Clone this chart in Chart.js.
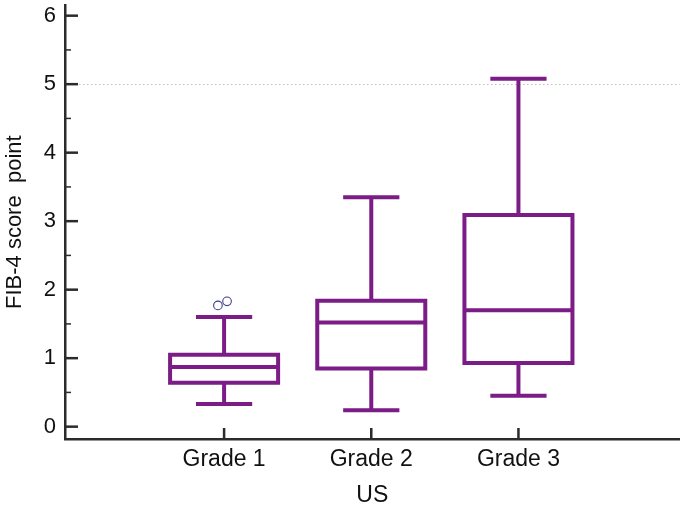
<!DOCTYPE html>
<html><head><meta charset="utf-8">
<script src="https://cdn.jsdelivr.net/npm/chart.js@4.4.1/dist/chart.umd.min.js"></script>
<style>html,body{margin:0;padding:0;background:#fff}#wrap{width:685px;height:507px;position:relative}</style>
</head><body><div id="wrap"><canvas id="c"></canvas></div>
<script>
// ---- data ----
const categories = ['Grade 1', 'Grade 2', 'Grade 3'];
const whiskerLow  = [0.33, 0.24, 0.45];
const q1          = [0.64, 0.85, 0.93];
const median      = [0.87, 1.52, 1.70];
const q3          = [1.05, 1.84, 3.09];
const whiskerHigh = [1.60, 3.35, 5.08];
const outlierPos   = [0.958, 1.020];   // jittered category position
const outlierValue = [1.77, 1.83];
const yTicks = [0, 1, 2, 3, 4, 5, 6];
const refLines = [5];

// ---- style ----
const PURPLE = '#7b1c87';
const AXIS = '#2b2b2b';
const BOX_HALF = 0.367;   // in category units
const CAP_HALF = 0.191;
const FONT = 'Arial, "Liberation Sans", sans-serif';

const gap = i => ({x: i + 1, y: null});
const boxPts = [], medPts = [], whiskPts = [], capPts = [];
categories.forEach((c, i) => {
  const x = i + 1;
  boxPts.push({x: x - BOX_HALF, y: q1[i]}, {x: x + BOX_HALF, y: q1[i]}, {x: x + BOX_HALF, y: q3[i]},
              {x: x - BOX_HALF, y: q3[i]}, {x: x - BOX_HALF, y: q1[i]}, gap(i));
  medPts.push({x: x - BOX_HALF, y: median[i]}, {x: x + BOX_HALF, y: median[i]}, gap(i));
  whiskPts.push({x: x, y: q3[i]}, {x: x, y: whiskerHigh[i]}, gap(i), {x: x, y: q1[i]}, {x: x, y: whiskerLow[i]}, gap(i));
  capPts.push({x: x - CAP_HALF, y: whiskerHigh[i]}, {x: x + CAP_HALF, y: whiskerHigh[i]}, gap(i),
              {x: x - CAP_HALF, y: whiskerLow[i]}, {x: x + CAP_HALF, y: whiskerLow[i]}, gap(i));
});
const outPts = outlierPos.map((p, k) => ({x: p, y: outlierValue[k]}));

const lineDs = (data, cap) => ({
  type: 'scatter', data, showLine: true, spanGaps: false, borderColor: PURPLE, borderWidth: 4,
  pointRadius: 0, borderCapStyle: cap, borderJoinStyle: 'miter', fill: false, tension: 0
});

const tickPlugin = {
  id: 'innerTicks',
  afterDraw(chart) {
    const {ctx, chartArea, scales: {x, y}} = chart;
    ctx.save();
    ctx.strokeStyle = AXIS;
    const seg = (x1, y1, x2, y2, w) => { ctx.lineWidth = w; ctx.beginPath(); ctx.moveTo(x1, y1); ctx.lineTo(x2, y2); ctx.stroke(); };
    yTicks.forEach(v => { const p = y.getPixelForValue(v); seg(chartArea.left, p, chartArea.left + 13, p, 2.5); });
    for (let i = 0; i < yTicks.length - 1; i++) {
      const p = y.getPixelForValue((yTicks[i] + yTicks[i + 1]) / 2);
      seg(chartArea.left, p, chartArea.left + 6, p, 1.5);
    }
    categories.forEach((c, i) => { const p = x.getPixelForValue(i + 1); seg(p, chartArea.bottom, p, chartArea.bottom - 11, 2.5); });
    ctx.restore();
  }
};
const refPlugin = {
  id: 'refLines',
  beforeDatasetsDraw(chart) {
    const {ctx, chartArea, scales: {y}} = chart;
    ctx.save();
    ctx.strokeStyle = '#bdbdbd'; ctx.lineWidth = 1; ctx.setLineDash([1.5, 2.5]);
    refLines.forEach(v => { const p = Math.round(y.getPixelForValue(v)) + 0.5; ctx.beginPath(); ctx.moveTo(chartArea.left + 14, p); ctx.lineTo(chartArea.right, p); ctx.stroke(); });
    ctx.restore();
  }
};

new Chart(document.getElementById('c'), {
  type: 'scatter',
  data: {
    datasets: [
      lineDs(boxPts, 'square'),
      lineDs(medPts, 'butt'),
      lineDs(whiskPts, 'butt'),
      lineDs(capPts, 'butt'),
      {type: 'scatter', data: outPts, showLine: false, pointRadius: 4.3, pointBorderWidth: 1.1,
       pointBorderColor: '#3c3c8c', pointBackgroundColor: 'rgba(0,0,0,0)'}
    ]
  },
  options: {
    responsive: true, maintainAspectRatio: false, animation: false,
    events: [],
    layout: {padding: {top: 1, right: 2, left: 0, bottom: 0}},
    plugins: {legend: {display: false}, tooltip: {enabled: false}},
    scales: {
      x: {
        type: 'linear', min: -0.081, max: 4.095,
        afterBuildTicks: s => { s.ticks = categories.map((c, i) => ({value: i + 1})); },
        afterFit: s => { s.height = 68; s.paddingLeft = 0; s.paddingRight = 0; },
        grid: {display: false, drawTicks: false},
        border: {display: true, color: AXIS, width: 2.5},
        ticks: {callback: v => categories[v - 1], color: '#111', padding: 7,
                font: {family: FONT, size: 23}, maxRotation: 0, autoSkip: false},
        title: {display: true, text: 'US', color: '#111', font: {family: FONT, size: 23, lineHeight: 1},
                padding: {top: 0, bottom: 0}}
      },
      y: {
        type: 'linear', min: -0.18, max: 6.15,
        afterBuildTicks: s => { s.ticks = yTicks.map(v => ({value: v})); },
        afterFit: s => { s.width = 65; s.paddingTop = 0; s.paddingBottom = 0; },
        grid: {display: false, drawTicks: false},
        border: {display: true, color: AXIS, width: 2.5},
        ticks: {callback: v => String(v), color: '#111', padding: 9, font: {family: FONT, size: 22}},
        title: {display: true, text: 'FIB-4 score  point', color: '#111',
                font: {family: FONT, size: 22, lineHeight: 1}, padding: {top: 4, bottom: 0}}
      }
    }
  },
  plugins: [refPlugin, tickPlugin]
});
</script>
</body></html>
